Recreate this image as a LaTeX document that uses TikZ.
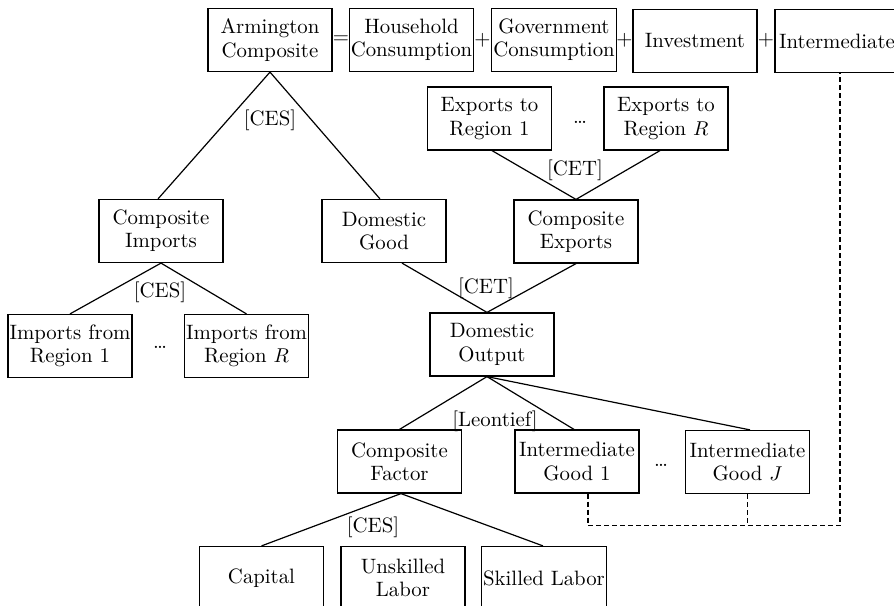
\documentclass[tikz,border=0pt]{standalone}
\usetikzlibrary{calc}
\begin{document}
\begin{tikzpicture}[x=0.5pt,y=-0.5pt,
  box/.style={draw,line width=0.6pt,minimum width=62pt,minimum height=31.5pt,inner sep=0.8pt,align=center,font=\fontsize{10.4}{11.6}\selectfont},
  lbl/.style={inner sep=0pt,font=\fontsize{10.4}{11.6}\selectfont},
  conn/.style={line width=0.6pt},
  dconn/.style={line width=0.6pt,dash pattern=on 2.5pt off 1.5pt}]
\useasboundingbox (0,0) rectangle (894,605);
% top row
\node[box] (arm) at (270,40) {Armington\\Composite};
\node[box] (hh) at (411.5,40) {Household\\Consumption};
\node[box] (gov) at (554,40) {Government\\Consumption};
\node[box] (inv) at (695,41) {Investment};
\node[box] (int) at (837,41) {Intermediate};
\node[lbl] (eq) at (341,40) {=};
\node[lbl] (p1) at (482.5,40) {+};
\node[lbl] (p2) at (624.5,40) {+};
\node[lbl] (p3) at (766,40) {+};
% exports
\node[box] (ex1) at (489.5,118.5) {Exports to\\Region 1};
\node[box] (exR) at (666,118.5) {Exports to\\Region $R$};
\node[lbl] (d1) at (580,122) {\dots};
\node[box] (cex) at (576,231.5) {Composite\\Exports};
% second level
\node[box] (cim) at (161,231) {Composite\\Imports};
\node[box] (dg) at (384,231) {Domestic\\Good};
\node[box] (im1) at (70,346) {Imports from\\Region 1};
\node[box] (imR) at (246.5,346) {Imports from\\Region $R$};
\node[lbl] (d2) at (160,347) {\dots};
\node[box] (do) at (492,344.5) {Domestic\\Output};
% third level
\node[box] (cf) at (399.5,461.5) {Composite\\Factor};
\node[box] (ig1) at (577,461.5) {Intermediate\\Good 1};
\node[box] (igJ) at (747.5,462) {Intermediate\\Good $J$};
\node[lbl] (d3) at (661,465) {\dots};
% factors
\node[box] (cap) at (261.5,578) {Capital};
\node[box] (unsk) at (403,578) {Unskilled\\Labor};
\node[box] (sk) at (544,578) {Skilled Labor};
% labels
\node[lbl] (l1) at (270,120) {[CES]};
\node[lbl] (l2) at (160,292) {[CES]};
\node[lbl] (l3) at (575,170) {[CET]};
\node[lbl] (l4) at (486,288) {[CET]};
\node[lbl] (l5) at (495,421) {[Leontief]};
\node[lbl] (l6) at (373,527) {[CES]};
% connectors
\coordinate (dotop) at ($(do.north)+(-5,0)$);
\coordinate (dobot) at ($(do.south)+(-5,0)$);
\draw[conn] ($(cim.north)+(-3,0)$) -- (arm.south) -- ($(dg.north)+(-4,0)$);
\draw[conn] (im1.north) -- (cim.south) -- (imR.north);
\draw[conn] ($(ex1.south)+(2.5,0)$) -- (cex.north) -- ($(exR.south)+(-6,0)$);
\draw[conn] ($(dg.south)+(18,0)$) -- (dotop) -- (cex.south);
\draw[conn] (cf.north) -- (dobot) -- ($(ig1.north)+(-3,0)$);
\draw[conn] (dobot) -- ($(igJ.north)+(2.5,0)$);
\draw[conn] (cap.north) -- ($(cf.south)+(1.5,0)$) -- ($(sk.north)+(-1,0)$);
\draw[conn] ($(cf.south)+(1.5,0)$) -- ($(cf.south)+(1.5,0)$ |- unsk.north);
% dashed feedback
\coordinate (dl) at ($(ig1.south)+(11,32)$);
\draw[dconn] ($(ig1.south)+(11,0)$) -- (dl) -| ($(int.south)+(3,0)$);
\draw[dconn] (igJ.south) -- ($(igJ.south)+(0,32)$);
\end{tikzpicture}
\end{document}
